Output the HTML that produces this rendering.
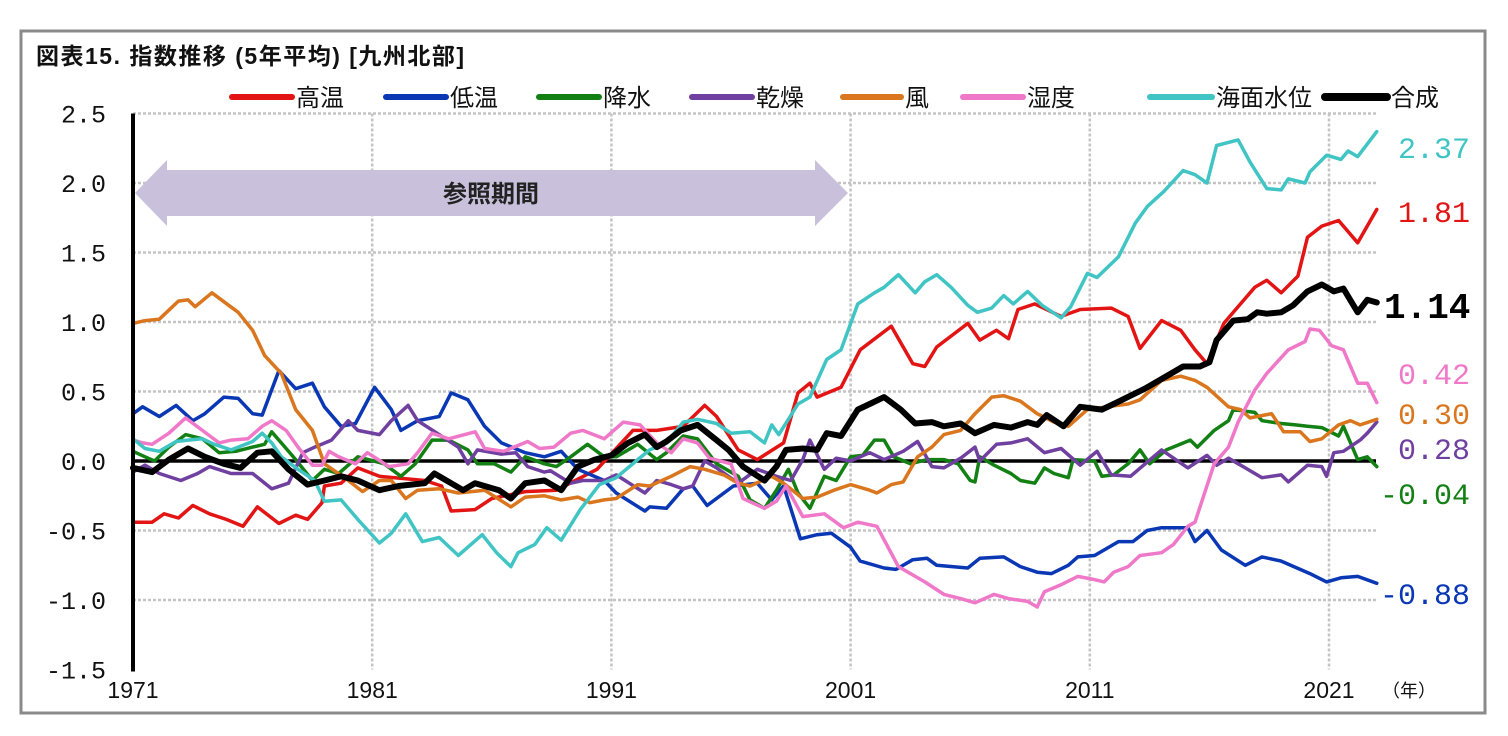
<!DOCTYPE html>
<html><head><meta charset="utf-8">
<style>
html,body{margin:0;padding:0;background:#fff;}
svg{display:block;}
text{font-family:"Liberation Sans","Noto Sans CJK JP",sans-serif;}
.mono{font-family:"Liberation Mono","Noto Sans CJK JP",monospace;}
</style></head>
<body>
<svg id="chart" width="1508" height="736" viewBox="0 0 1508 736" xmlns="http://www.w3.org/2000/svg">
<rect x="21" y="31" width="1464" height="682" fill="#fff" stroke="#8a8a8a" stroke-width="3"/>
<text x="36" y="64" font-size="23" font-weight="bold" letter-spacing="1.5" fill="#111">図表15. 指数推移 (5年平均) [九州北部]</text>
<g id="grid"></g>
<g id="arrow">
<polygon points="135,193 167,160 167,170 815,170 815,160 848,193 815,226 815,216 167,216 167,226" fill="#c9c1dc"/>
<text x="491" y="202" font-size="24" font-weight="bold" text-anchor="middle" fill="#222">参照期間</text>
</g>
<g id="axes"></g>
<g id="series"></g>
<g id="legend"></g>
<g id="endlabels"></g>
</svg>
<script>
const NS="http://www.w3.org/2000/svg";
const yTicks=[2.5,2.0,1.5,1.0,0.5,0.0,-0.5,-1.0,-1.5];
const yTickLabels=["2.5","2.0","1.5","1.0","0.5","0.0","-0.5","-1.0","-1.5"];
const xTicks=[1971,1981,1991,2001,2011,2021];
const seriesNames=["高温","低温","降水","乾燥","風","湿度","海面水位","合成"];
const seriesColors=["#e31414","#0a37b4","#138014","#7040a0","#d9761e","#ef78c8","#40c4c4","#000000"];

const redX=[1971,1971.8,1972.3,1972.9,1973.5,1974.2,1974.9,1975.6,1976.2,1977.1,1977.8,1978.3,1978.9,1979.0,1979.7,1980.4,1981.3,1983.2,1983.9,1984.3,1985.3,1986.0,1987.4,1988.7,1990.4,1991.9,1992.9,1994.0,1994.9,1995.4,1996.3,1997.1,1998.2,1998.8,1999.3,1999.6,2000.6,2001.4,2002.7,2003.6,2004.1,2004.6,2005.9,2006.4,2007.1,2007.6,2008.0,2008.7,2009.8,2010.6,2011.9,2012.6,2013.1,2014.0,2014.8,2015.4,2015.9,2016.6,2017.3,2017.9,2018.4,2019.0,2019.7,2020.1,2020.7,2021.4,2022.2,2023.0];
const redY=[-0.44,-0.44,-0.38,-0.41,-0.32,-0.38,-0.42,-0.47,-0.33,-0.45,-0.39,-0.42,-0.30,-0.18,-0.16,-0.05,-0.11,-0.14,-0.18,-0.36,-0.35,-0.27,-0.22,-0.21,-0.06,0.22,0.22,0.25,0.40,0.32,0.08,0.01,0.13,0.49,0.56,0.46,0.53,0.80,0.97,0.70,0.68,0.82,0.99,0.87,0.94,0.88,1.09,1.13,1.04,1.09,1.10,1.04,0.81,1.01,0.94,0.80,0.70,0.99,1.13,1.25,1.30,1.21,1.33,1.61,1.69,1.73,1.57,1.81];

const blueX=[1971,1971.4,1972.1,1972.8,1973.5,1974.0,1974.8,1975.4,1976.0,1976.4,1977.1,1977.8,1978.5,1979.0,1979.7,1980.3,1981.1,1981.8,1982.2,1982.9,1983.8,1984.3,1985.0,1985.7,1986.4,1987.4,1988.2,1988.9,1989.6,1990.7,1991.2,1992.4,1992.6,1993.3,1994.0,1994.4,1995.0,1996.1,1997.1,1997.7,1998.2,1998.9,1999.6,2000.2,2001.0,2001.4,2002.4,2002.9,2003.6,2004.2,2004.6,2005.9,2006.4,2007.4,2008.1,2008.8,2009.4,2010.1,2010.5,2011.2,2012.2,2012.8,2013.4,2014.0,2015.1,2015.4,2015.9,2016.5,2017.5,2018.2,2019.0,2020.2,2020.9,2021.5,2022.2,2023.0];
const blueY=[0.34,0.39,0.32,0.40,0.29,0.34,0.46,0.45,0.34,0.33,0.65,0.52,0.56,0.39,0.25,0.27,0.53,0.37,0.22,0.29,0.32,0.49,0.44,0.25,0.13,0.06,0.03,0.07,-0.06,-0.14,-0.23,-0.36,-0.33,-0.34,-0.20,-0.18,-0.32,-0.18,-0.16,-0.28,-0.18,-0.56,-0.53,-0.52,-0.62,-0.72,-0.77,-0.78,-0.71,-0.70,-0.75,-0.77,-0.70,-0.69,-0.76,-0.80,-0.81,-0.75,-0.69,-0.68,-0.58,-0.58,-0.50,-0.48,-0.48,-0.58,-0.50,-0.64,-0.75,-0.69,-0.72,-0.81,-0.87,-0.84,-0.83,-0.88];

const greenX=[1971,1971.5,1971.9,1972.5,1973.2,1973.9,1974.6,1975.3,1976.0,1976.5,1976.8,1977.2,1977.8,1978.5,1979.0,1979.6,1980.4,1981.5,1982.2,1982.8,1983.5,1984.2,1985.0,1985.4,1986.1,1986.8,1987.4,1988.2,1988.7,1989.3,1990.0,1990.7,1991.2,1992.1,1992.9,1993.3,1994.0,1994.6,1995.4,1996.3,1996.8,1997.4,1997.9,1998.4,1998.8,1999.3,1999.9,2000.4,2001.0,2001.5,2002.0,2002.4,2002.8,2003.5,2004.2,2004.9,2005.5,2006.0,2006.2,2006.4,2007.0,2007.7,2008.1,2008.7,2009.1,2009.5,2010.1,2010.3,2011.2,2011.5,2012.0,2012.6,2013.1,2013.5,2014.2,2015.2,2015.5,2016.2,2016.8,2017.0,2017.9,2018.2,2019.0,2019.6,2020.1,2020.7,2021.4,2021.6,2022.2,2022.6,2023.0];
const greenY=[0.07,0.03,0.00,0.10,0.19,0.16,0.06,0.07,0.10,0.12,0.21,0.13,0.01,-0.14,-0.06,-0.09,0.03,-0.02,-0.11,-0.02,0.15,0.15,0.08,-0.02,-0.02,-0.08,0.03,-0.02,-0.04,0.03,0.12,0.03,0.03,0.12,0.01,0.06,0.18,0.16,-0.02,-0.11,-0.28,-0.34,-0.21,-0.06,-0.23,-0.34,-0.11,-0.14,0.03,0.04,0.15,0.15,0.03,-0.02,0.01,0.01,-0.02,-0.14,-0.15,0.03,-0.03,-0.09,-0.14,-0.16,-0.05,-0.09,-0.12,0.01,0.00,-0.11,-0.10,-0.02,0.08,-0.02,0.08,0.15,0.10,0.22,0.29,0.37,0.35,0.29,0.27,0.26,0.25,0.24,0.18,0.25,0.01,0.03,-0.04];

const purpleX=[1971,1971.5,1972.1,1973.0,1973.7,1974.2,1975.1,1976.0,1976.8,1977.5,1978.1,1978.6,1979.3,1980.0,1980.4,1981.3,1981.8,1982.5,1982.9,1983.8,1984.6,1985.0,1985.4,1986.4,1987.0,1987.5,1988.2,1988.45,1989.3,1989.8,1990.7,1991.2,1992.4,1992.9,1993.5,1994.0,1994.4,1994.9,1995.4,1996.3,1997.1,1997.9,1998.5,1999.0,1999.3,1999.9,2000.4,2001.0,2001.8,2002.4,2003.2,2003.8,2004.4,2004.9,2005.6,2006.2,2006.4,2007.1,2007.7,2008.4,2009.1,2009.8,2010.6,2011.3,2011.9,2012.7,2014.0,2015.1,2015.9,2016.3,2016.8,2017.5,2018.2,2019.0,2019.3,2020.1,2020.7,2020.9,2021.2,2021.6,2022.3,2022.6,2023.0];
const purpleY=[-0.08,-0.03,-0.09,-0.14,-0.09,-0.04,-0.09,-0.09,-0.20,-0.16,0.06,0.10,0.15,0.29,0.22,0.19,0.29,0.40,0.29,0.19,0.10,-0.02,0.08,0.05,0.06,-0.04,-0.08,-0.07,-0.16,-0.14,-0.14,-0.10,-0.23,-0.14,-0.17,-0.20,-0.18,0.00,-0.05,-0.16,-0.06,-0.11,-0.14,0.01,0.15,-0.06,0.02,0.00,0.06,0.01,0.07,0.14,-0.04,-0.05,0.02,0.10,0.00,0.12,0.13,0.16,0.06,0.09,-0.03,0.07,-0.10,-0.11,0.08,-0.05,0.04,-0.03,0.02,-0.05,-0.12,-0.10,-0.15,-0.03,-0.04,-0.11,0.06,0.07,0.15,0.20,0.28];

const orangeX=[1971,1971.5,1972.1,1972.9,1973.3,1973.6,1974.3,1975.0,1975.4,1976.0,1976.5,1977.2,1977.8,1978.5,1979.0,1979.5,1980.0,1980.6,1981.3,1981.8,1982.4,1982.9,1983.8,1984.6,1985.7,1986.8,1987.4,1988.2,1988.9,1989.6,1990.1,1990.7,1991.2,1992.1,1992.6,1993.5,1994.3,1994.9,1995.7,1996.3,1996.8,1997.7,1998.2,1999.0,1999.6,2000.3,2001.0,2001.8,2002.1,2002.7,2003.2,2003.8,2004.4,2004.9,2005.6,2006.2,2006.9,2007.4,2008.1,2008.8,2009.5,2010.1,2010.9,2011.7,2012.6,2013.1,2014.0,2014.8,2015.4,2015.9,2016.8,2017.3,2017.7,2018.6,2019.1,2019.8,2020.2,2020.7,2021.4,2021.9,2022.3,2023.0];
const orangeY=[0.99,1.01,1.02,1.15,1.16,1.11,1.21,1.12,1.07,0.94,0.76,0.63,0.37,0.22,-0.02,-0.08,-0.14,-0.22,-0.14,-0.14,-0.27,-0.21,-0.20,-0.23,-0.21,-0.33,-0.26,-0.25,-0.28,-0.26,-0.30,-0.28,-0.27,-0.17,-0.18,-0.11,-0.04,-0.06,-0.10,-0.16,-0.18,-0.11,-0.16,-0.27,-0.26,-0.21,-0.17,-0.21,-0.23,-0.17,-0.15,0.03,0.10,0.19,0.22,0.34,0.46,0.47,0.43,0.34,0.28,0.25,0.37,0.39,0.41,0.44,0.58,0.61,0.58,0.53,0.39,0.37,0.31,0.34,0.21,0.21,0.14,0.16,0.26,0.29,0.26,0.30];

const pinkX=[1971,1971.4,1971.8,1972.5,1973.2,1973.9,1974.6,1975.1,1975.8,1976.4,1976.8,1977.4,1977.9,1978.5,1978.9,1979.2,1979.6,1980.3,1980.8,1981.7,1982.5,1982.9,1983.5,1984.2,1985.3,1985.7,1986.5,1987.5,1988.0,1988.6,1989.3,1989.8,1990.7,1991.5,1992.2,1992.9,1993.5,1994.0,1994.6,1995.1,1996.0,1996.5,1997.4,1997.9,1998.3,1999.0,1999.9,2000.7,2001.3,2002.1,2003.0,2004.1,2004.9,2005.6,2006.2,2007.0,2007.6,2008.4,2008.8,2009.1,2009.8,2010.5,2011.1,2011.6,2012.0,2012.6,2013.1,2014.0,2014.5,2015.1,2015.4,2015.8,2016.2,2016.8,2017.2,2017.9,2018.4,2019.3,2020.0,2020.2,2020.6,2021.1,2021.6,2022.2,2022.6,2023.0];
const pinkY=[0.15,0.13,0.12,0.20,0.31,0.22,0.13,0.15,0.16,0.25,0.29,0.22,0.10,-0.03,-0.03,0.07,0.03,-0.02,0.06,-0.04,-0.02,0.06,0.20,0.16,0.21,0.09,0.07,0.14,0.09,0.10,0.20,0.22,0.16,0.28,0.26,0.13,0.06,0.16,0.13,0.02,-0.02,-0.27,-0.34,-0.29,-0.18,-0.40,-0.38,-0.48,-0.44,-0.47,-0.76,-0.87,-0.96,-0.99,-1.02,-0.96,-0.99,-1.01,-1.05,-0.94,-0.89,-0.83,-0.85,-0.87,-0.80,-0.76,-0.68,-0.66,-0.60,-0.47,-0.44,-0.23,-0.02,0.10,0.28,0.51,0.63,0.80,0.86,0.95,0.94,0.83,0.80,0.56,0.56,0.42];

const cyanX=[1971,1971.5,1972.1,1972.8,1973.3,1973.9,1974.4,1975.1,1976.0,1976.4,1976.8,1977.2,1977.9,1978.6,1979.0,1979.7,1980.4,1981.3,1981.8,1982.4,1983.1,1983.8,1984.6,1985.6,1986.2,1986.8,1987.1,1987.8,1988.3,1988.9,1989.7,1990.5,1991.2,1992.1,1992.6,1993.3,1994.0,1994.6,1995.4,1996.0,1996.8,1997.4,1997.7,1998.0,1998.8,1999.3,2000.0,2000.6,2001.3,2002.0,2002.4,2003.0,2003.7,2004.1,2004.6,2005.2,2005.9,2006.3,2006.9,2007.4,2007.8,2008.4,2009.0,2009.8,2010.2,2010.9,2011.3,2012.2,2012.9,2013.4,2014.1,2014.9,2015.4,2015.9,2016.3,2017.2,2017.7,2018.4,2019.0,2019.3,2020.0,2020.2,2020.9,2021.5,2021.8,2022.2,2023.0];
const cyanY=[0.16,0.09,0.07,0.14,0.15,0.16,0.12,0.08,0.14,0.20,0.13,0.03,-0.06,-0.14,-0.29,-0.28,-0.42,-0.59,-0.52,-0.38,-0.58,-0.55,-0.68,-0.53,-0.66,-0.76,-0.66,-0.60,-0.48,-0.57,-0.35,-0.17,-0.12,0.01,0.08,0.13,0.28,0.30,0.27,0.20,0.21,0.13,0.26,0.19,0.41,0.46,0.73,0.80,1.13,1.21,1.25,1.34,1.21,1.29,1.34,1.25,1.12,1.07,1.10,1.19,1.13,1.22,1.12,1.03,1.11,1.35,1.32,1.47,1.71,1.83,1.94,2.09,2.06,2.00,2.27,2.31,2.15,1.96,1.95,2.03,2.00,2.08,2.20,2.17,2.23,2.19,2.37];

const blackX=[1971,1971.8,1972.5,1973.3,1974.0,1974.8,1975.5,1976.2,1976.8,1977.5,1978.3,1979.0,1979.7,1980.4,1981.3,1982.1,1983.2,1983.6,1984.3,1984.8,1985.3,1986.3,1986.8,1987.4,1988.2,1988.9,1989.6,1990.3,1991.0,1991.7,1992.4,1992.9,1993.3,1993.9,1994.6,1995.4,1995.9,1996.5,1997.4,1997.9,1998.3,1999.0,1999.6,2000.0,2000.6,2001.3,2001.8,2002.4,2003.1,2003.7,2004.4,2004.9,2005.6,2006.2,2007.0,2007.7,2008.4,2008.8,2009.2,2009.9,2010.6,2011.5,2012.0,2012.7,2013.3,2014.0,2014.9,2015.6,2016.0,2016.3,2017.0,2017.6,2018.0,2018.4,2019.0,2019.5,2020.1,2020.7,2021.2,2021.6,2022.2,2022.6,2023.0];
const blackY=[-0.05,-0.08,0.01,0.09,0.03,-0.02,-0.05,0.06,0.07,-0.06,-0.17,-0.14,-0.11,-0.14,-0.21,-0.18,-0.16,-0.09,-0.16,-0.21,-0.16,-0.21,-0.27,-0.16,-0.14,-0.21,-0.04,0.01,0.04,0.13,0.19,0.10,0.14,0.22,0.26,0.15,0.08,-0.04,-0.14,-0.04,0.08,0.09,0.08,0.20,0.18,0.37,0.41,0.46,0.37,0.27,0.28,0.25,0.27,0.20,0.26,0.24,0.28,0.26,0.33,0.25,0.39,0.37,0.41,0.47,0.52,0.59,0.68,0.68,0.71,0.87,1.01,1.02,1.07,1.06,1.07,1.12,1.22,1.27,1.22,1.24,1.07,1.16,1.14];

const endLabels=["2.37","1.81","1.14","0.42","0.30","0.28","-0.04","-0.88"];
const endLabelSeries=[6,0,7,5,4,3,2,1];

const X0=133,X1=1329,Y0=461,UNIT=139;
function xs(yr){return X0+(yr-1971)*(X1-X0)/50;}
function ys(v){return Y0-v*UNIT;}
function mk(tag,attrs,parent){const e=document.createElementNS(NS,tag);for(const k in attrs)e.setAttribute(k,attrs[k]);parent.appendChild(e);return e;}

const grid=document.getElementById('grid');
yTicks.forEach((t)=>{
  if(t===0||t===-1.5)return;
  const l=mk('line',{x1:X0,x2:1376,y1:ys(t),y2:ys(t),stroke:'#c4c4c4','stroke-width':2.5,'stroke-dasharray':'3,2'},grid);
  
  
});
xTicks.forEach(t=>{
  if(t===1971)return;
  const l=mk('line',{x1:xs(t),x2:xs(t),y1:ys(2.5),y2:ys(-1.5),stroke:'#c4c4c4','stroke-width':2.5,'stroke-dasharray':'3,2'},grid);
  
  
});

const axes=document.getElementById('axes');
yTicks.forEach((t,i)=>{
  const tx=mk('text',{x:106,y:ys(t)+9,'font-size':25,'text-anchor':'end',fill:'#111',class:'mono'},axes);
  tx.textContent=yTickLabels[i];
  
  
});
xTicks.forEach(t=>{
  const tx=mk('text',{x:xs(t),y:698,'font-size':23,'text-anchor':'middle',fill:'#111'},axes);
  tx.textContent=String(t);
  
  
});
const unit=mk('text',{x:1382,y:697,'font-size':18,fill:'#111'},axes);
unit.textContent='（年）';



const ser=document.getElementById('series');
const allX=[redX,blueX,greenX,purpleX,orangeX,pinkX,cyanX,blackX];
const allY=[redY,blueY,greenY,purpleY,orangeY,pinkY,cyanY,blackY];
const ids=['high-temp','low-temp','precipitation','drought','wind','humidity','sea-level','composite'];
const zl=mk('line',{x1:X0,x2:1376,y1:ys(0),y2:ys(0),stroke:'#000','stroke-width':3.5},ser);


allX.forEach((xa,i)=>{
  const ya=allY[i];
  const n=Math.min(xa.length,ya.length);
  let d='';
  for(let k=0;k<n;k++)d+=(k?'L':'M')+xs(xa[k]).toFixed(1)+','+ys(ya[k]).toFixed(1);
  const p=mk('path',{d:d,fill:'none',stroke:seriesColors[i],'stroke-width':i===7?6:3.5,'stroke-linejoin':'round','stroke-linecap':'round'},ser);
  
  
});
const ax=mk('line',{x1:X0,x2:X0,y1:ys(2.5),y2:ys(-1.5)+2,stroke:'#000','stroke-width':4},ser);



const lg=document.getElementById('legend');
const lgLine=[232,386,539,692,843,963,1150,1325];
const lgW=[60,60,60,60,58,60,62,62];
lgLine.forEach((x,i)=>{
  const g=mk('g',{},lg);
  
  
  mk('line',{x1:x,x2:x+lgW[i],y1:97,y2:97,stroke:seriesColors[i],'stroke-width':i===7?8:6,'stroke-linecap':'round'},g);
  const t=mk('text',{x:x+lgW[i]+4,y:106,'font-size':24,fill:'#111'},g);
  t.textContent=seriesNames[i];
});

const el=document.getElementById('endlabels');
const elY=[158,222,318,384,424,459,504,604];
const elX=[1398,1398,1384,1398,1398,1398,1380,1380];
endLabels.forEach((s,i)=>{
  const t=mk('text',{x:elX[i],y:elY[i],'font-size':i===2?36:30,'font-weight':i===2?'bold':'normal',fill:seriesColors[endLabelSeries[i]],class:'mono'},el);
  t.textContent=s;
  
  
});
</script>
</body></html>
